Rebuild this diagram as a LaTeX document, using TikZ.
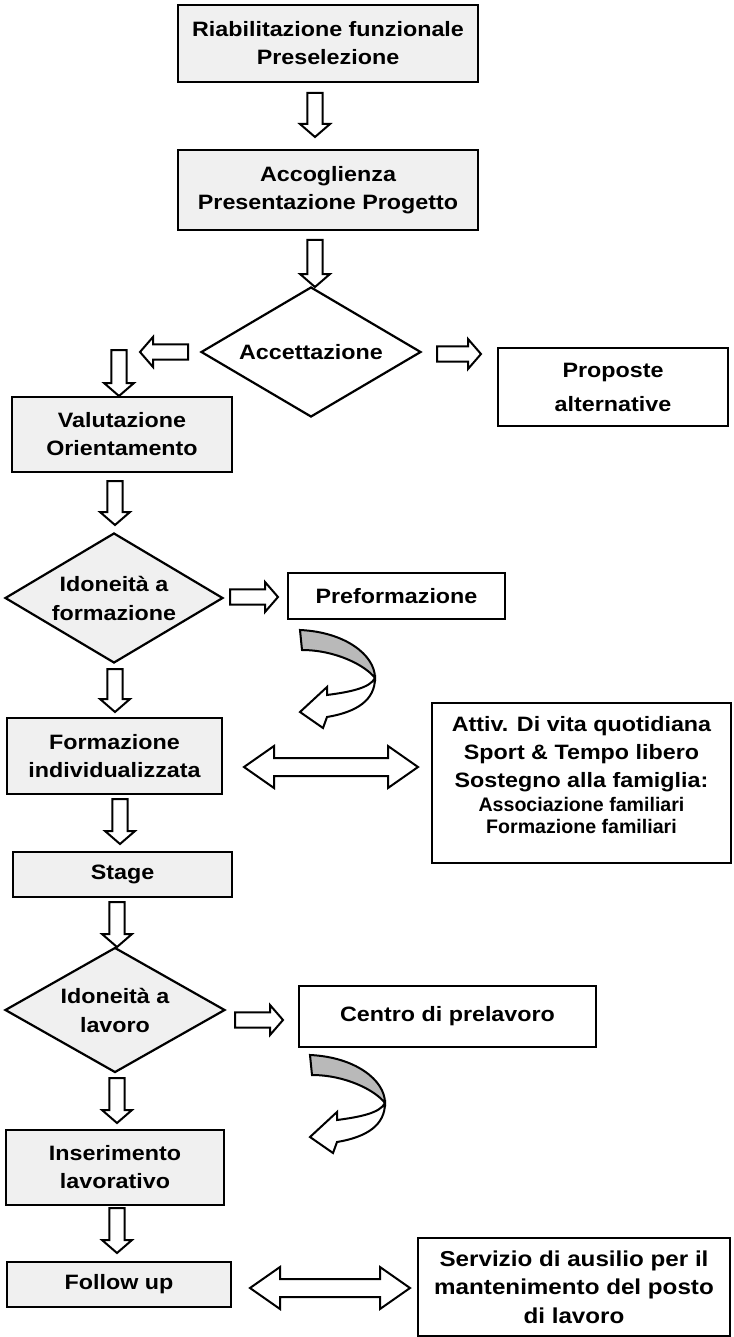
\documentclass[tikz,border=0pt]{standalone}
\usepackage{fontspec}
\setmainfont{Liberation Sans}[FakeStretch=1.12]
\newfontfamily\plainsans{Liberation Sans}
\usetikzlibrary{calc}
\usetikzlibrary{shapes.geometric}
\usetikzlibrary{positioning}

% hollow block arrows drawn between two coordinates
\tikzset{
  blk/.style={draw, line width=1pt, fill=white, line join=miter,
    to path={
      ($(\tikztostart)!3.8pt!90:(\tikztotarget)$)
      -- ($(\tikztotarget)!6.5pt!(\tikztostart)!3.8pt!-90:(\tikztostart)$)
      -- ($(\tikztotarget)!6.5pt!(\tikztostart)!7.5pt!-90:(\tikztostart)$)
      -- (\tikztotarget)
      -- ($(\tikztotarget)!6.5pt!(\tikztostart)!7.5pt!90:(\tikztostart)$)
      -- ($(\tikztotarget)!6.5pt!(\tikztostart)!3.8pt!90:(\tikztostart)$)
      -- ($(\tikztostart)!3.8pt!-90:(\tikztotarget)$)
      -- cycle}},
  dblk/.style={draw, line width=1pt, fill=white, line join=miter,
    to path={
      (\tikztostart)
      -- ($(\tikztostart)!15pt!(\tikztotarget)!10.5pt!90:(\tikztotarget)$)
      -- ($(\tikztostart)!15pt!(\tikztotarget)!4.5pt!90:(\tikztotarget)$)
      -- ($(\tikztotarget)!15pt!(\tikztostart)!4.5pt!-90:(\tikztostart)$)
      -- ($(\tikztotarget)!15pt!(\tikztostart)!10.5pt!-90:(\tikztostart)$)
      -- (\tikztotarget)
      -- ($(\tikztotarget)!15pt!(\tikztostart)!10.5pt!90:(\tikztostart)$)
      -- ($(\tikztotarget)!15pt!(\tikztostart)!4.5pt!90:(\tikztostart)$)
      -- ($(\tikztostart)!15pt!(\tikztotarget)!4.5pt!-90:(\tikztotarget)$)
      -- ($(\tikztostart)!15pt!(\tikztotarget)!10.5pt!-90:(\tikztotarget)$)
      -- cycle}},
  pics/turnarrow/.style={code={
    \filldraw[fill=gray!55, line width=1pt] (0,0) .. controls (45,2) and (75,25) .. (75,48)
      .. controls (65,35) and (35,20) .. (2,20) -- cycle;
    \filldraw[fill=white, line width=1pt, line join=miter] (75,48) .. controls (75,70) and (57,82) .. (27,87)
      -- (23,98) -- (0,82) -- (27,57) -- (27,65) .. controls (50,62) and (70,58) .. (75,48) -- cycle;
  }}
}

\begin{document}
\begin{tikzpicture}[x=0.5pt, y=-0.5pt,
  box/.style={draw, line width=1.2pt, inner sep=0pt, align=center,
    font={\fontsize{10.4}{14}\selectfont\bfseries}},
  graybox/.style={box, fill=gray!12},
  decision/.style={draw, diamond, line width=1.1pt, inner sep=0pt, shape aspect=1.7,
    align=center, font={\fontsize{10.4}{14.5}\selectfont\bfseries}}]
	\useasboundingbox (0,0) rectangle (733,1337);

	% main column
	\node[graybox, minimum width=150pt, minimum height=38.5pt] (riab) at (328,43.5) {Riabilitazione funzionale\\Preselezione};
	\node[graybox, minimum width=150pt, minimum height=40pt] (accog) at (328,190) {Accoglienza\\Presentazione Progetto};
	\node[decision, minimum width=110pt, minimum height=65pt] (accett) at (311,352) {Accettazione};
	\node[box, minimum width=115pt, minimum height=39pt, font={\fontsize{10.4}{17}\selectfont\bfseries}] (altern) at (613,387) {Proposte\\alternative};
	\node[graybox, minimum width=110pt, minimum height=37.5pt] (valut) at (122,434.5) {Valutazione\\Orientamento};
	\node[decision, fill=gray!12, minimum width=109pt, minimum height=65pt] (idform) at (114,598) {Idoneità a\\formazione};
	\node[box, minimum width=108.5pt, minimum height=23pt] (preform) at (396.5,596) {Preformazione};
	\node[graybox, minimum width=107.5pt, minimum height=38pt] (formaz) at (114.5,756) {Formazione\\individualizzata};
	\node[box, minimum width=149.5pt, minimum height=80pt] (attiv) at (581.5,783) {Attiv. Di vita quotidiana\\Sport \& Tempo libero\\Sostegno alla famiglia:\\[-2pt]
		{\plainsans\fontsize{9.8}{11}\selectfont Associazione familiari}\\[-3pt]{\plainsans\fontsize{9.8}{11}\selectfont Formazione familiari}\\[-6pt]\mbox{}};
	\node[graybox, minimum width=109.5pt, minimum height=22.5pt] (stage) at (122.5,874.5) {Stage};
	\node[decision, fill=gray!12, minimum width=110pt, minimum height=62.5pt] (idlav) at (115,1010) {Idoneità a\\lavoro};
	\node[box, minimum width=148.5pt, minimum height=30.5pt] (centro) at (447.5,1016.5) {Centro di prelavoro};
	\node[graybox, minimum width=109pt, minimum height=37.5pt] (inser) at (115,1167.5) {Inserimento\\lavorativo};
	\node[graybox, minimum width=112pt, minimum height=22.5pt] (follow) at (119,1284.5) {Follow up};
	\node[box, minimum width=156pt, minimum height=49pt, font={\fontsize{10.8}{14.2}\selectfont\bfseries}] (servizio) at (574,1287) {Servizio di ausilio per il\\mantenimento del posto\\di lavoro};

	% arrow ends
	\coordinate (a1s) at (315,93);   \coordinate (a1e) at (315,137);
	\coordinate (a2s) at (315,240);  \coordinate (a2e) at (315,287);
	\coordinate (l1s) at (188,352);  \coordinate (l1e) at (140,352);
	\coordinate (r1s) at (437,354);  \coordinate (r1e) at (481,354);
	\coordinate (a3s) at (119,350);  \coordinate (a3e) at (119,396);
	\coordinate (a4s) at (115,481);  \coordinate (a4e) at (115,525);
	\coordinate (r2s) at (230,597);  \coordinate (r2e) at (278,597);
	\coordinate (a5s) at (115,669);  \coordinate (a5e) at (115,712);
	\coordinate (d1s) at (244,767);  \coordinate (d1e) at (418,767);
	\coordinate (a6s) at (120,799);  \coordinate (a6e) at (120,844);
	\coordinate (a7s) at (117,902);  \coordinate (a7e) at (117,947);
	\coordinate (r3s) at (235,1020); \coordinate (r3e) at (283,1020);
	\coordinate (a8s) at (117,1078); \coordinate (a8e) at (117,1123);
	\coordinate (a9s) at (117,1208); \coordinate (a9e) at (117,1253);
	\coordinate (d2s) at (250,1288); \coordinate (d2e) at (410,1288);

	\foreach \p in {a1,a2,l1,r1,a3,a4,r2,a5,a6,a7,r3,a8,a9}
		\draw[blk] (\p s) to (\p e);
	\draw[dblk] (d1s) to (d1e);
	\draw[dblk] (d2s) to (d2e);

	% curved return arrows
	\pic at (300,630) {turnarrow};
	\pic at (310,1055) {turnarrow};
\end{tikzpicture}
\end{document}
